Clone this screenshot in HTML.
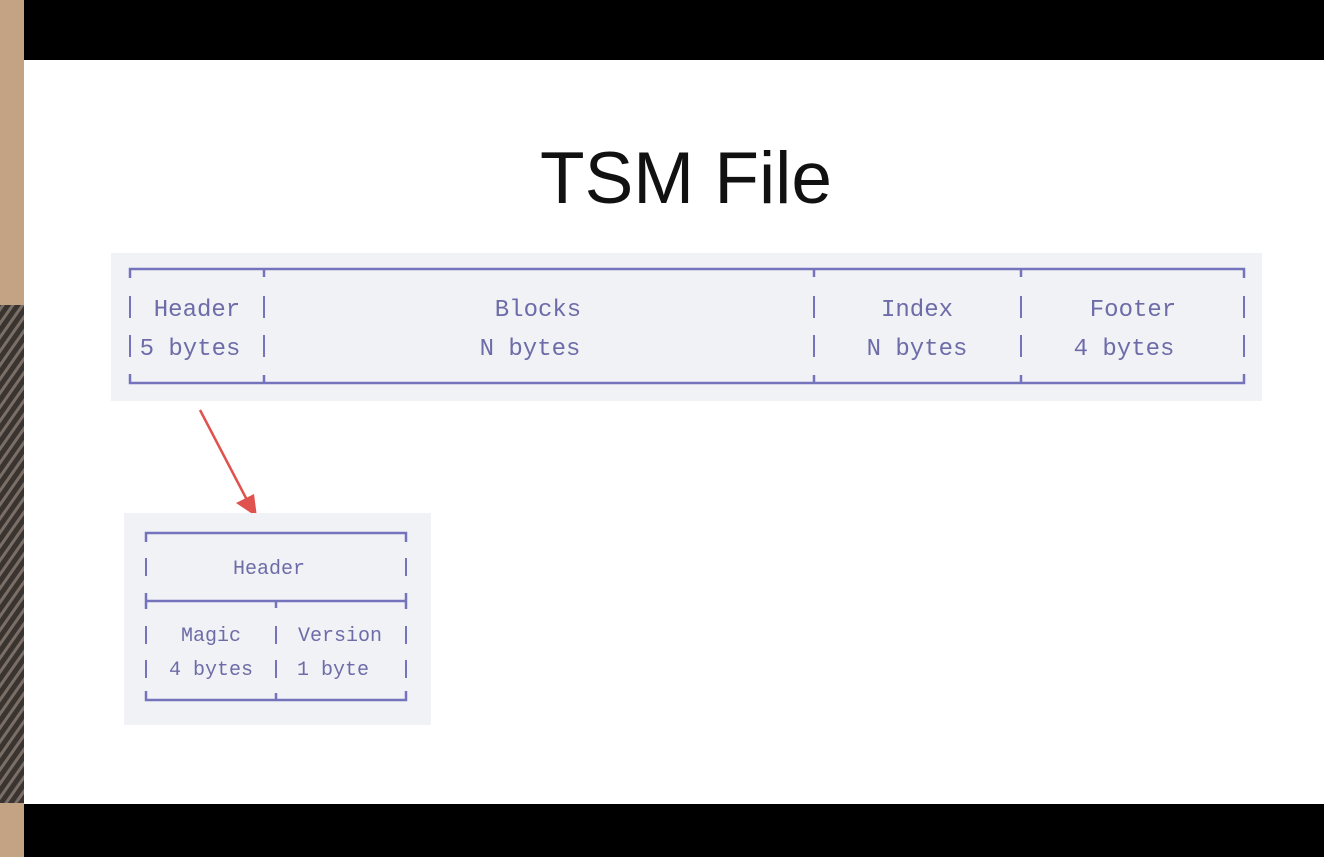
<!DOCTYPE html>
<html><head><meta charset="utf-8"><style>
html,body{margin:0;padding:0;width:1324px;height:857px;overflow:hidden;background:#000}
svg{display:block}
.m{font-family:"Liberation Mono","DejaVu Sans Mono",monospace;fill:#6d6ca8}
</style></head><body>
<svg width="1324" height="857" viewBox="0 0 1324 857">
<defs>
<pattern id="pl" width="8" height="8" patternUnits="userSpaceOnUse" patternTransform="rotate(35)">
<rect width="8" height="8" fill="#3a3430"/><rect width="3" height="8" fill="#7a6e66"/></pattern>
</defs>
<rect x="0" y="0" width="1324" height="857" fill="#000"/>
<rect x="0" y="0" width="24" height="857" fill="#c4a385"/>
<rect x="0" y="305" width="24" height="498" fill="url(#pl)"/>
<rect x="24" y="60" width="1300" height="744" fill="#fff"/>
<text x="686" y="203" text-anchor="middle" font-family="Liberation Sans, sans-serif" font-size="73" fill="#111">TSM File</text>

<rect x="111" y="253" width="1151" height="148" fill="#f1f2f6"/>
<g stroke="#7573bc" stroke-width="2.5" fill="none">
<path d="M130 278V269H1244V278M130 374V383H1244V374"/>
<path d="M264 269V277M814 269V277M1021 269V277M264 383V375M814 383V375M1021 383V375"/>
</g>
<g stroke="#7573bc" stroke-width="2" fill="none">
<path d="M130 296V318M130 335V357M264 296V318M264 335V357M814 296V318M814 335V357M1021 296V318M1021 335V357M1244 296V318M1244 335V357"/>
</g>
<g class="m" font-size="24" text-anchor="middle">
<text x="197" y="316">Header</text><text x="190" y="355">5 bytes</text>
<text x="538" y="316">Blocks</text><text x="530" y="355">N bytes</text>
<text x="917" y="316">Index</text><text x="917" y="355">N bytes</text>
<text x="1133" y="316">Footer</text><text x="1124" y="355">4 bytes</text>
</g>

<line x1="200" y1="410" x2="247" y2="500" stroke="#e0524e" stroke-width="2.5"/>
<polygon points="257,517 236,503 254,494" fill="#e0524e"/>

<rect x="124" y="513" width="307" height="212" fill="#f1f2f6"/>
<g stroke="#7573bc" stroke-width="2.5" fill="none">
<path d="M146 542V533H406V542M146 609V601H406V609M146 593V601M406 593V601M146 691V700H406V691M276 601V608M276 700V693"/>
</g>
<g stroke="#7573bc" stroke-width="2" fill="none">
<path d="M146 558V576M406 558V576M146 626V644M146 660V678M276 626V644M276 660V678M406 626V644M406 660V678"/>
</g>
<g class="m" font-size="20" text-anchor="middle">
<text x="269" y="574">Header</text>
<text x="211" y="641">Magic</text><text x="340" y="641">Version</text>
<text x="211" y="675">4 bytes</text><text x="333" y="675">1 byte</text>
</g>
</svg>
</body></html>
